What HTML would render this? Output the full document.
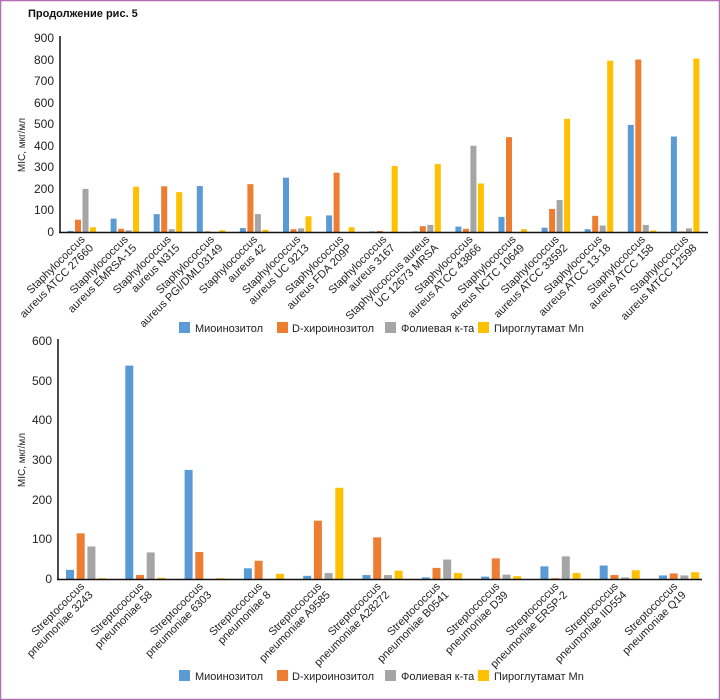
<!DOCTYPE html>
<html><head><meta charset="utf-8"><style>
html,body{margin:0;padding:0;background:#fff}
svg{display:block;font-family:"Liberation Sans",sans-serif}
</style></head><body>
<svg id="s" width="720" height="700" viewBox="0 0 720 700" xmlns="http://www.w3.org/2000/svg">
<rect x="0.5" y="0.5" width="719" height="699" fill="#fff" stroke="#b26fb2" stroke-width="1.5"/>
<text x="28" y="17" font-size="11" font-weight="bold" fill="#111">Продолжение рис. 5</text>
<g id="bars"></g>
<text transform="translate(25,145) rotate(-90)" font-size="10" text-anchor="middle" fill="#222">MIC, мкг/мл</text>
<text transform="translate(25,460) rotate(-90)" font-size="10" text-anchor="middle" fill="#222">MIC, мкг/мл</text>
<line x1="60" y1="36" x2="60" y2="233" stroke="#111" stroke-width="1.5"/>
<line x1="59" y1="232.5" x2="708" y2="232.5" stroke="#111" stroke-width="1.5"/>
<line x1="58" y1="339" x2="58" y2="580" stroke="#111" stroke-width="1.5"/>
<line x1="57" y1="579.5" x2="702" y2="579.5" stroke="#111" stroke-width="1.5"/>
<g font-size="11" fill="#222" text-anchor="end">
<text transform="translate(85.5,240) rotate(-45)"><tspan x="0" y="0">Staphylococcus</tspan><tspan x="0" y="12">aureus ATCC 27660</tspan></text>
<text transform="translate(128.6,240) rotate(-45)"><tspan x="0" y="0">Staphylococcus</tspan><tspan x="0" y="12">aureus EMRSA-15</tspan></text>
<text transform="translate(171.7,240) rotate(-45)"><tspan x="0" y="0">Staphylococcus</tspan><tspan x="0" y="12">aureus N315</tspan></text>
<text transform="translate(214.8,240) rotate(-45)"><tspan x="0" y="0">Staphylococcus</tspan><tspan x="0" y="12">aureus PGI/DML03149</tspan></text>
<text transform="translate(257.9,240) rotate(-45)"><tspan x="0" y="0">Staphylococcus</tspan><tspan x="0" y="12">aureus 42</tspan></text>
<text transform="translate(301,240) rotate(-45)"><tspan x="0" y="0">Staphylococcus</tspan><tspan x="0" y="12">aureus UC 9213</tspan></text>
<text transform="translate(344.1,240) rotate(-45)"><tspan x="0" y="0">Staphylococcus</tspan><tspan x="0" y="12">aureus FDA 209P</tspan></text>
<text transform="translate(387.2,240) rotate(-45)"><tspan x="0" y="0">Staphylococcus</tspan><tspan x="0" y="12">aureus 3167</tspan></text>
<text transform="translate(430.3,240) rotate(-45)"><tspan x="0" y="0">Staphylococcus aureus</tspan><tspan x="0" y="12">UC 12673 MRSA</tspan></text>
<text transform="translate(473.4,240) rotate(-45)"><tspan x="0" y="0">Staphylococcus</tspan><tspan x="0" y="12">aureus ATCC 43866</tspan></text>
<text transform="translate(516.5,240) rotate(-45)"><tspan x="0" y="0">Staphylococcus</tspan><tspan x="0" y="12">aureus NCTC 10649</tspan></text>
<text transform="translate(559.6,240) rotate(-45)"><tspan x="0" y="0">Staphylococcus</tspan><tspan x="0" y="12">aureus ATCC 33592</tspan></text>
<text transform="translate(602.7,240) rotate(-45)"><tspan x="0" y="0">Staphylococcus</tspan><tspan x="0" y="12">aureus ATCC 13-18</tspan></text>
<text transform="translate(645.8,240) rotate(-45)"><tspan x="0" y="0">Staphylococcus</tspan><tspan x="0" y="12">aureus ATCC 158</tspan></text>
<text transform="translate(688.9,240) rotate(-45)"><tspan x="0" y="0">Staphylococcus</tspan><tspan x="0" y="12">aureus MTCC 12598</tspan></text>

<text transform="translate(85,587) rotate(-45)"><tspan x="0" y="0">Streptococcus</tspan><tspan x="0" y="12">pneumoniae 3243</tspan></text>
<text transform="translate(144.3,587) rotate(-45)"><tspan x="0" y="0">Streptococcus</tspan><tspan x="0" y="12">pneumoniae 58</tspan></text>
<text transform="translate(203.6,587) rotate(-45)"><tspan x="0" y="0">Streptococcus</tspan><tspan x="0" y="12">pneumoniae 6303</tspan></text>
<text transform="translate(262.9,587) rotate(-45)"><tspan x="0" y="0">Streptococcus</tspan><tspan x="0" y="12">pneumoniae 8</tspan></text>
<text transform="translate(322.2,587) rotate(-45)"><tspan x="0" y="0">Streptococcus</tspan><tspan x="0" y="12">pneumoniae A9585</tspan></text>
<text transform="translate(381.5,587) rotate(-45)"><tspan x="0" y="0">Streptococcus</tspan><tspan x="0" y="12">pneumoniae A28272</tspan></text>
<text transform="translate(440.8,587) rotate(-45)"><tspan x="0" y="0">Streptococcus</tspan><tspan x="0" y="12">pneumoniae B0541</tspan></text>
<text transform="translate(500.1,587) rotate(-45)"><tspan x="0" y="0">Streptococcus</tspan><tspan x="0" y="12">pneumoniae D39</tspan></text>
<text transform="translate(559.4,587) rotate(-45)"><tspan x="0" y="0">Streptococcus</tspan><tspan x="0" y="12">pneumoniae ERSP-2</tspan></text>
<text transform="translate(618.7,587) rotate(-45)"><tspan x="0" y="0">Streptococcus</tspan><tspan x="0" y="12">pneumoniae IID554</tspan></text>
<text transform="translate(678,587) rotate(-45)"><tspan x="0" y="0">Streptococcus</tspan><tspan x="0" y="12">pneumoniae Q19</tspan></text>
</g>
<g font-size="11" fill="#222">
<rect x="179" y="322" width="11" height="11" fill="#5b9bd5"/><text x="195" y="332">Миоинозитол</text>
<rect x="277" y="322" width="11" height="11" fill="#ed7d31"/><text x="292" y="332">D-хироинозитол</text>
<rect x="385" y="322" width="11" height="11" fill="#a5a5a5"/><text x="401" y="332">Фолиевая к-та</text>
<rect x="478" y="322" width="11" height="11" fill="#ffc000"/><text x="494" y="332">Пироглутамат Mn</text>
<rect x="179" y="670" width="11" height="11" fill="#5b9bd5"/><text x="195" y="680">Миоинозитол</text>
<rect x="277" y="670" width="11" height="11" fill="#ed7d31"/><text x="292" y="680">D-хироинозитол</text>
<rect x="385" y="670" width="11" height="11" fill="#a5a5a5"/><text x="401" y="680">Фолиевая к-та</text>
<rect x="478" y="670" width="11" height="11" fill="#ffc000"/><text x="494" y="680">Пироглутамат Mn</text>
</g>
<g font-size="12" fill="#222" text-anchor="end">
<text x="54" y="42">900</text><text x="54" y="64">800</text><text x="54" y="85">700</text><text x="54" y="107">600</text><text x="54" y="128">500</text><text x="54" y="150">400</text><text x="54" y="171">300</text><text x="54" y="193">200</text><text x="54" y="214">100</text><text x="54" y="236">0</text>
<text x="52" y="345">600</text><text x="52" y="385">500</text><text x="52" y="424">400</text><text x="52" y="464">300</text><text x="52" y="504">200</text><text x="52" y="543">100</text><text x="52" y="583">0</text>
</g>
</svg>
<script>
(function(){
var C=["#5b9bd5","#ed7d31","#a5a5a5","#ffc000"];
var T=[[5,57,200,22],[62,15,8,210],[83,212,13,185],[213,3,0,8],[18,222,83,10],[252,13,17,73],[77,275,0,22],[3,5,0,306],[3,27,33,315],[25,15,400,225],[70,440,0,13],[20,107,148,525],[13,75,30,795],[497,800,33,7],[443,2,17,805]];
var B=[[23,115,82,2],[538,10,67,3],[275,68,0,2],[27,46,0,13],[8,147,15,230],[10,105,10,21],[4,28,49,15],[6,52,11,7],[32,2,57,15],[34,10,4,22],[9,14,9,17]];
var NS="http://www.w3.org/2000/svg",g=document.getElementById("bars");
function r(x,y,w,h,c){var e=document.createElementNS(NS,"rect");e.setAttribute("x",x);e.setAttribute("y",y);e.setAttribute("width",w);e.setAttribute("height",h);e.setAttribute("fill",c);g.appendChild(e);}
T.forEach(function(v,i){v.forEach(function(d,j){var hh=d*194/900;r(67.5+43.1*i+7.5*j,232-hh,6,hh,C[j]);});});
B.forEach(function(v,i){v.forEach(function(d,j){var hh=d*238/600;r(66+59.3*i+10.7*j,579-hh,8,hh,C[j]);});});
})();
</script>
</body></html>
